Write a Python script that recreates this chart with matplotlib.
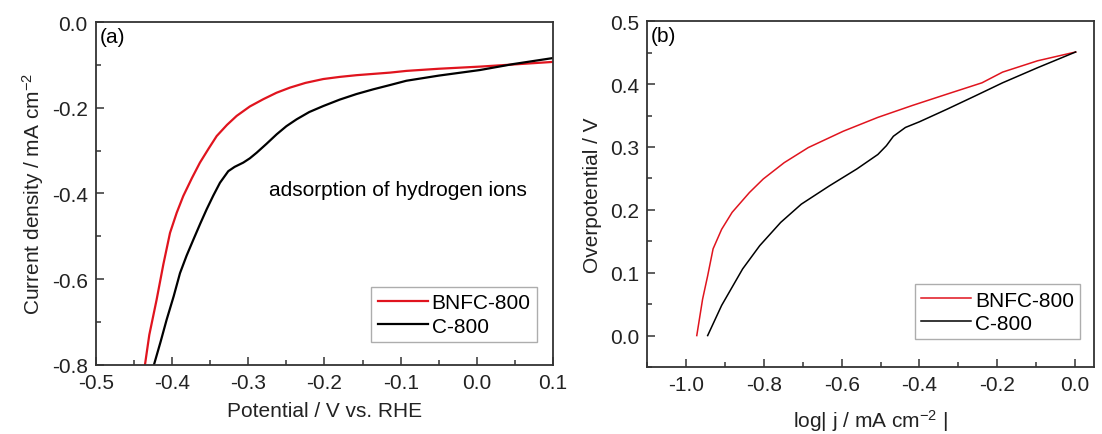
import numpy as np
import matplotlib
matplotlib.use('Agg')
import matplotlib.pyplot as plt
from matplotlib.ticker import MultipleLocator

plt.rcParams['font.family'] = ['Liberation Sans', 'DejaVu Sans']
plt.rcParams['mathtext.default'] = 'regular'
plt.rcParams['axes.unicode_minus'] = False

# Panel (a): polarization curves
a_bnfc_v = [-0.4357, -0.43, -0.4204, -0.4115, -0.4028, -0.394, -0.3854, -0.374, -0.3635,
            -0.352, -0.3415, -0.328, -0.3153, -0.298, -0.2803, -0.263, -0.2453, -0.225,
            -0.2016, -0.18, -0.158, -0.136, -0.114, -0.0925, -0.05, 0.004, 0.048, 0.1]
a_bnfc_j = [-0.8, -0.73, -0.648, -0.565, -0.492, -0.445, -0.406, -0.364, -0.328,
            -0.295, -0.266, -0.240, -0.219, -0.197, -0.180, -0.165, -0.153, -0.142,
            -0.133, -0.128, -0.124, -0.121, -0.118, -0.114, -0.109, -0.104, -0.099, -0.093]
a_c_v = [-0.4239, -0.415, -0.4073, -0.398, -0.3897, -0.381, -0.3722, -0.363, -0.3547,
         -0.346, -0.3372, -0.3263, -0.318, -0.3066, -0.298, -0.2891, -0.276, -0.2628,
         -0.25, -0.2366, -0.22, -0.2016, -0.18, -0.158, -0.136, -0.114, -0.0925, -0.05,
         0.004, 0.048, 0.1]
a_c_j = [-0.8, -0.745, -0.695, -0.64, -0.586, -0.545, -0.508, -0.47, -0.437,
         -0.405, -0.375, -0.348, -0.338, -0.328, -0.318, -0.305, -0.284, -0.262,
         -0.243, -0.227, -0.21, -0.196, -0.181, -0.168, -0.157, -0.147, -0.137, -0.125,
         -0.112, -0.098, -0.084]

# Panel (b): Tafel plots
b_bnfc_x = [-0.973, -0.958, -0.945, -0.931, -0.909, -0.882, -0.8375, -0.802, -0.748,
            -0.686, -0.596, -0.507, -0.418, -0.329, -0.239, -0.186, -0.096, 0.002]
b_bnfc_y = [0.0, 0.058, 0.095, 0.138, 0.169, 0.196, 0.2275, 0.249, 0.275,
            0.299, 0.325, 0.347, 0.366, 0.384, 0.402, 0.419, 0.437, 0.451]
b_c_x = [-0.945, -0.909, -0.855, -0.811, -0.757, -0.704, -0.632, -0.561, -0.507,
         -0.485, -0.467, -0.436, -0.4, -0.329, -0.257, -0.186, -0.096, 0.002]
b_c_y = [0.0, 0.048, 0.106, 0.143, 0.180, 0.209, 0.238, 0.265, 0.288,
         0.302, 0.317, 0.331, 0.340, 0.360, 0.381, 0.402, 0.426, 0.451]

red = '#e0141e'
fs = 15

fig = plt.figure(figsize=(11.02, 4.35), dpi=100)
ax1 = fig.add_axes([0.0871, 0.159, 0.4147, 0.788])
ax2 = fig.add_axes([0.5875, 0.154, 0.4055, 0.795])

def style(ax):
    for s in ax.spines.values():
        s.set_color('#333333')
        s.set_linewidth(1.3)
    ax.tick_params(which='both', direction='in', top=False, right=False,
                   labelsize=fs, colors='#333333', labelcolor='#222222')
    ax.tick_params(which='major', length=6, width=1.1, pad=6)
    ax.tick_params(which='minor', length=3.5, width=1.1)

ax1.plot(a_bnfc_v, a_bnfc_j, color=red, lw=1.6, label='BNFC-800')
ax1.plot(a_c_v, a_c_j, color='black', lw=1.6, label='C-800')
ax1.set_xlim(-0.5, 0.1)
ax1.set_ylim(-0.8, 0.0)
ax1.xaxis.set_major_locator(MultipleLocator(0.1))
ax1.xaxis.set_minor_locator(MultipleLocator(0.05))
ax1.yaxis.set_major_locator(MultipleLocator(0.2))
ax1.yaxis.set_minor_locator(MultipleLocator(0.1))
style(ax1)
ax1.set_xlabel('Potential / V vs. RHE', fontsize=fs, color='#222222', labelpad=6)
ax1.set_ylabel('Current density / mA cm$^{-2}$', fontsize=fs, color='#222222', labelpad=4)
ax1.text(0.008, 0.985, '(a)', transform=ax1.transAxes, fontsize=fs, va='top', ha='left')
ax1.text(-0.273, -0.39, 'adsorption of hydrogen ions', fontsize=fs, va='center', ha='left')
ax1.legend(loc='lower right', bbox_to_anchor=(0.965, 0.067), fontsize=fs, frameon=True,
           fancybox=False, edgecolor='#999999', handlelength=2.4, handletextpad=0.2,
           borderpad=0.3, labelspacing=0.2, borderaxespad=0)

ax2.plot(b_bnfc_x, b_bnfc_y, color=red, lw=1.1, label='BNFC-800')
ax2.plot(b_c_x, b_c_y, color='black', lw=1.1, label='C-800')
ax2.set_xlim(-1.1, 0.05)
ax2.set_ylim(-0.05, 0.5)
ax2.xaxis.set_major_locator(MultipleLocator(0.2))
ax2.xaxis.set_minor_locator(MultipleLocator(0.1))
ax2.yaxis.set_major_locator(MultipleLocator(0.1))
ax2.yaxis.set_minor_locator(MultipleLocator(0.05))
style(ax2)
ax2.set_xlabel('log| j / mA cm$^{-2}$ |', fontsize=fs, color='#222222', labelpad=9)
ax2.set_ylabel('Overpotential / V', fontsize=fs, color='#222222', labelpad=6)
ax2.text(0.008, 0.985, '(b)', transform=ax2.transAxes, fontsize=fs, va='top', ha='left')
ax2.legend(loc='lower right', bbox_to_anchor=(0.969, 0.081), fontsize=fs, frameon=True,
           fancybox=False, edgecolor='#999999', handlelength=2.4, handletextpad=0.2,
           borderpad=0.3, labelspacing=0.2, borderaxespad=0)

fig.savefig('out.png', dpi=100)
